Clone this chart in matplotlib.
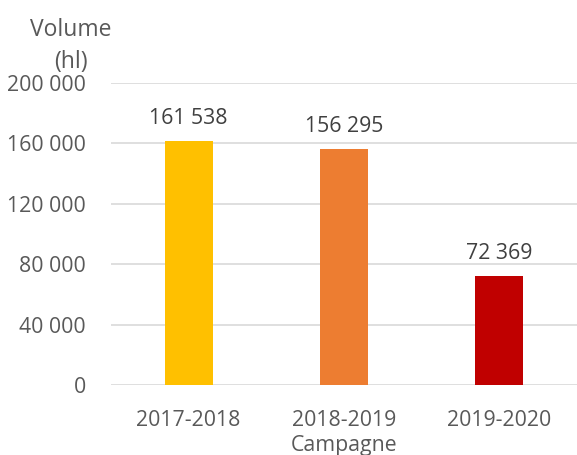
import matplotlib.pyplot as plt
import numpy as np

plt.rcParams['font.family'] = ['Open Sans', 'DejaVu Sans']

campagnes = ['2017-2018', '2018-2019', '2019-2020']
volumes = [161538, 156295, 72369]
couleurs = ['#FFC000', '#ED7D31', '#C00000']
yticks = [0, 40000, 80000, 120000, 160000, 200000]

def fmt(v):
    return '{:,}'.format(v).replace(',', ' ')

txt = '#595959'
fs = 15.3

fig = plt.figure(figsize=(5.77, 4.55), dpi=100)
ax = fig.add_axes([111/577, 70/455, 466/577, 302/455])

x = np.arange(len(campagnes))
bars = ax.bar(x, volumes, width=0.31, color=couleurs, zorder=3)

for xi, v in zip(x, volumes):
    ax.text(xi, v + 8000, fmt(v), ha='center', va='bottom', fontsize=fs, color='#404040')

ax.set_xlim(-0.5, 2.5)
ax.set_ylim(0, 200000)
ax.set_yticks(yticks)
ax.set_yticklabels([fmt(t) for t in yticks], fontsize=fs, color=txt)
ax.set_xticks(x)
ax.set_xticklabels(campagnes, fontsize=fs, color=txt)
ax.tick_params(length=0, pad=18, axis='y')
ax.tick_params(length=0, pad=18, axis='x')
ax.grid(axis='y', color='#D9D9D9', linewidth=1.2, zorder=0)
for s in ['top', 'right', 'left', 'bottom']:
    ax.spines[s].set_visible(False)

ax.set_xlabel('Campagne', fontsize=fs, color=txt, labelpad=3)
fig.text(71/577, 1 - 46/455, 'Volume\n(hl)', ha='center', va='center',
         fontsize=16.5, color=txt, linespacing=1.5)

fig.savefig('out.png', dpi=100)
